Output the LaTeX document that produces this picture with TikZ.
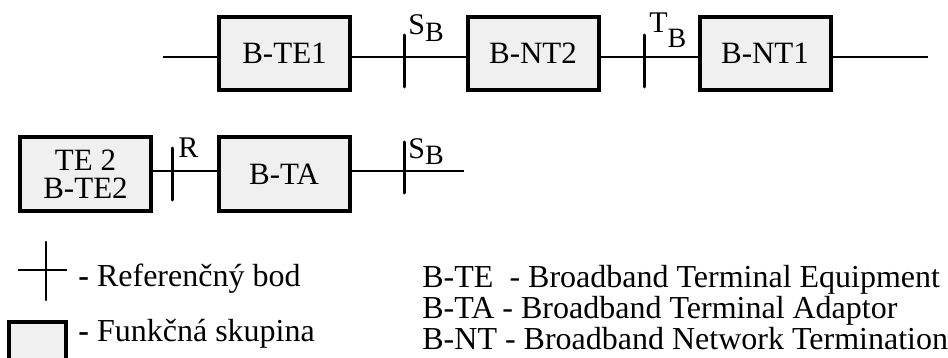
\documentclass[tikz,border=0pt]{standalone}
\usepackage{fontspec}
\setmainfont{Liberation Serif}
\tikzset{
  funcbox/.style={draw, line width=2pt, fill=gray!12, inner sep=0pt, minimum width=65.5pt, minimum height=36.5pt, align=center, font=\fontsize{15.5}{14}\selectfont},
  refline/.style={line width=1.5pt, line cap=round},
  conn/.style={line width=0.7pt},
  reflabel/.style={anchor=base west, inner sep=0pt, font=\fontsize{15}{18}\selectfont},
  legend/.style={anchor=base west, inner sep=0pt, font=\fontsize{16}{13}\selectfont}
}
\newcommand{\lowB}[1]{\raisebox{-#1}{\fontsize{14}{16}\selectfont B}}
\begin{document}
\begin{tikzpicture}[x=0.5pt, y=-0.5pt]
\useasboundingbox (0,0) rectangle (948,358);
\clip (0,0) rectangle (948,358);
\coordinate (in1) at (163,57);
\coordinate (out1) at (928,57);
\node[funcbox] (te1) at (284.5,53.5) {B-TE1};
\node[funcbox] (nt2) at (533,53.5) {B-NT2};
\node[funcbox] (nt1) at (765,53.5) {B-NT1};
\coordinate (sb1) at (404,57);
\coordinate (tb) at (644,57);
\draw[conn] (in1) -- (te1.west |- in1);
\draw[conn] (te1.east |- in1) -- (nt2.west |- in1);
\draw[conn] (nt2.east |- in1) -- (nt1.west |- in1);
\draw[conn] (nt1.east |- in1) -- (out1);
\draw[refline] (sb1) ++(0,-22) -- ++(0,52);
\draw[refline] (tb) ++(0,-22) -- ++(0,52);
\node[reflabel] (lsb1) at (408,35) {S\lowB{3.5pt}};
\node[reflabel] (ltb) at (649,33) {T\lowB{7.5pt}};
\coordinate (out2) at (464,171);
\node[funcbox] (te2) at (85.5,174) {TE 2\\B-TE2};
\node[funcbox] (ta) at (284,174) {B-TA};
\coordinate (r) at (172,171);
\coordinate (sb2) at (404,171);
\draw[conn] (te2.east |- out2) -- (ta.west |- out2);
\draw[conn] (ta.east |- out2) -- (out2);
\draw[refline] (r) ++(0,-23) -- ++(0,52);
\draw[refline] (sb2) ++(0,-29) -- ++(0,51);
\node[reflabel] (lr) at (178,157) {R};
\node[reflabel] (lsb2) at (408,158) {S\lowB{3pt}};
\draw[conn, line width=0.6pt] (18,270) -- (67,270);
\draw[refline, line width=1.2pt] (46,242) -- (46,300);
\node[legend] (lref) at (78,286) {\textbf{-} Referenčný bod};
\draw[line width=2pt, fill=gray!12] (9,322) rectangle (66,380);
\node[legend] (lfun) at (78,341) {\textbf{-} Funkčná skupina};
\node[legend, align=left, anchor=north west] (abbr) at (422,264.5) {B-TE\ \ - Broadband Terminal Equipment\\B-TA - Broadband Terminal Adaptor\\B-NT - Broadband Network Termination};
\end{tikzpicture}
\end{document}
